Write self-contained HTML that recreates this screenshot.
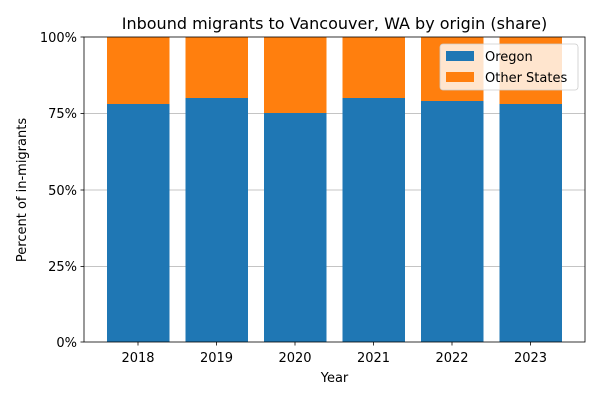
<!DOCTYPE html>
<html><head><style>body{margin:0;background:#fff}</style></head><body>
<svg width="600" height="400" xmlns="http://www.w3.org/2000/svg" font-family="DejaVu Sans, Liberation Sans, sans-serif">
<rect width="600" height="400" fill="#fff"/>
<g stroke="#b0b0b0" stroke-width="0.8">
<line x1="84" x2="585" y1="113.5" y2="113.5"/>
<line x1="84" x2="585" y1="190" y2="190"/>
<line x1="84" x2="585" y1="266.5" y2="266.5"/>
</g>
<g>
<rect x="107" y="37" width="62.5" height="67" fill="#ff7f0e"/><rect x="107" y="104" width="62.5" height="238" fill="#1f77b4"/>
<rect x="185.5" y="37" width="62.5" height="61" fill="#ff7f0e"/><rect x="185.5" y="98" width="62.5" height="244" fill="#1f77b4"/>
<rect x="264" y="37" width="62.5" height="76" fill="#ff7f0e"/><rect x="264" y="113" width="62.5" height="229" fill="#1f77b4"/>
<rect x="342.5" y="37" width="62.5" height="61" fill="#ff7f0e"/><rect x="342.5" y="98" width="62.5" height="244" fill="#1f77b4"/>
<rect x="421" y="37" width="62.5" height="64" fill="#ff7f0e"/><rect x="421" y="101" width="62.5" height="241" fill="#1f77b4"/>
<rect x="499.5" y="37" width="62.5" height="67" fill="#ff7f0e"/><rect x="499.5" y="104" width="62.5" height="238" fill="#1f77b4"/>
</g>
<rect x="84" y="37" width="501" height="305" fill="none" stroke="#000" stroke-width="0.8"/>
<g stroke="#000" stroke-width="0.8">
<line x1="80.5" x2="84" y1="37" y2="37"/><line x1="80.5" x2="84" y1="113.5" y2="113.5"/><line x1="80.5" x2="84" y1="190" y2="190"/><line x1="80.5" x2="84" y1="266.5" y2="266.5"/><line x1="80.5" x2="84" y1="342" y2="342"/>
<line x1="138" x2="138" y1="342" y2="345.5"/><line x1="216.5" x2="216.5" y1="342" y2="345.5"/><line x1="295" x2="295" y1="342" y2="345.5"/><line x1="373.5" x2="373.5" y1="342" y2="345.5"/><line x1="452" x2="452" y1="342" y2="345.5"/><line x1="530.5" x2="530.5" y1="342" y2="345.5"/>
</g>
<g font-size="13" text-anchor="end">
<text x="77" y="42">100%</text><text x="77" y="118">75%</text><text x="77" y="195">50%</text><text x="77" y="271">25%</text><text x="77" y="347">0%</text>
</g>
<g font-size="13" text-anchor="middle">
<text x="138" y="362">2018</text><text x="216.5" y="362">2019</text><text x="295" y="362">2020</text><text x="373.5" y="362">2021</text><text x="452" y="362">2022</text><text x="530.5" y="362">2023</text>
<text x="334.5" y="382">Year</text>
<text x="334.5" y="29" font-size="16">Inbound migrants to Vancouver, WA by origin (share)</text>
<text transform="translate(26,190) rotate(-90)">Percent of in-migrants</text>
</g>
<rect x="440" y="44" width="138" height="46" rx="3" fill="#fff" fill-opacity="0.8" stroke="#ccc" stroke-width="0.8"/>
<rect x="446" y="51" width="28" height="10" fill="#1f77b4"/>
<rect x="446" y="72" width="28" height="10" fill="#ff7f0e"/>
<text x="485" y="61" font-size="13">Oregon</text>
<text x="485" y="82" font-size="13">Other States</text>
</svg>
</body></html>
